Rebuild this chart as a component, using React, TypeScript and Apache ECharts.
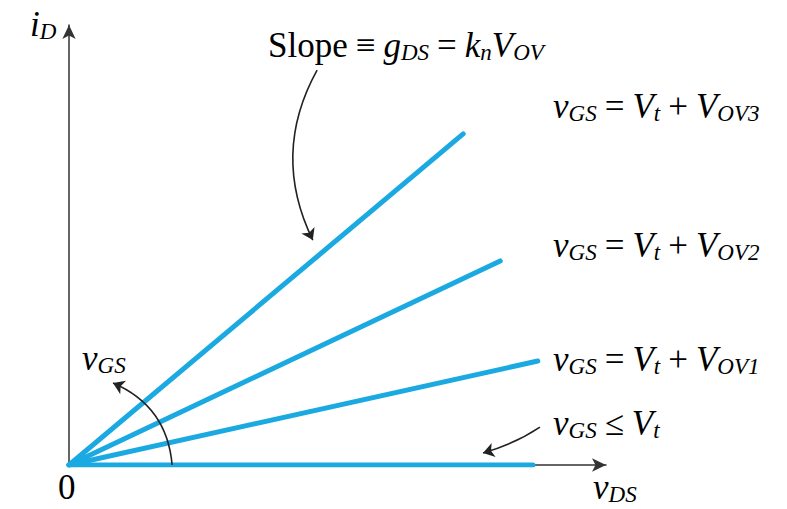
import React, { useEffect, useRef } from "react";
import * as echarts from "echarts";

// Schematic i_D - v_DS lines (arbitrary units), one per overdrive value
const seriesNames = ["vGS ≤ Vt", "VOV1", "VOV2", "VOV3"];
const endVDS = [8.64, 8.73, 8.03, 7.34];
const endID = [0, 1.89, 3.71, 6.02];

// Annotation arrows (data units): [x1, y1, x2, y2, curveness]
const slopeArrow = [4.62, 7.18, 4.54, 4.09, -0.26];
const vgsArc = [1.92, 0, 0.82, 1.49, -0.3];
const cutoffArrow = [8.77, 0.69, 7.71, 0.22, 0.08];

const xMax = 10;
const yMax = 8;

const FONT = "Liberation Serif, Times New Roman, serif";
const INK = "#222";

const rich = {
  m: { fontFamily: FONT, fontSize: 35, fontStyle: "italic", lineHeight: 38, color: INK },
  r: { fontFamily: FONT, fontSize: 35, fontStyle: "normal", lineHeight: 38, color: INK },
  o: { fontFamily: FONT, fontSize: 35, fontStyle: "normal", lineHeight: 38, color: INK, padding: [0, 8, 0, 8] },
  s: { fontFamily: FONT, fontSize: 23, fontStyle: "italic", lineHeight: 13, color: INK, verticalAlign: "bottom" },
};

const labelText = (x: number, y: number, text: string) => ({
  type: "text",
  x,
  y,
  silent: true,
  style: { text, rich, verticalAlign: "middle", align: "left" },
});

export default function App() {
  const ref = useRef<HTMLDivElement>(null);
  useEffect(() => {
    if (!ref.current) return;
    const chart = echarts.init(ref.current, null, { renderer: "svg" });
    const axisLine = {
      show: true,
      symbol: ["none", "arrow"],
      symbolSize: [10, 14],
      lineStyle: { color: "#333", width: 1.5 },
    };
    const mkArrow = (a: number[]) => ({
      coords: [
        [a[0], a[1]],
        [a[2], a[3]],
      ],
      lineStyle: { curveness: a[4] },
    });
    chart.setOption({
      animation: false,
      backgroundColor: "#fff",
      grid: { left: 69, right: 181, top: 25, bottom: 44 },
      xAxis: {
        type: "value",
        min: 0,
        max: xMax,
        axisLine,
        axisTick: { show: false },
        axisLabel: { show: false },
        splitLine: { show: false },
      },
      yAxis: {
        type: "value",
        min: 0,
        max: yMax,
        axisLine,
        axisTick: { show: false },
        axisLabel: { show: false },
        splitLine: { show: false },
      },
      series: [
        ...seriesNames.map((name, i) => ({
          type: "line",
          name,
          showSymbol: false,
          data: [
            [0, 0],
            [endVDS[i], endID[i]],
          ],
          lineStyle: { color: "#1ba9e1", width: 5, cap: "round" },
          z: 3,
        })),
        {
          type: "lines",
          coordinateSystem: "cartesian2d",
          symbol: ["none", "arrow"],
          symbolSize: 11,
          lineStyle: { color: INK, width: 1.6, opacity: 1 },
          data: [mkArrow(slopeArrow), mkArrow(vgsArc), mkArrow(cutoffArrow)],
          z: 4,
        },
      ],
      graphic: [
        labelText(30, 24, "{m|i}{s|D}"),
        labelText(268, 45, "{r|Slope}{o|≡}{m|g}{s|DS}{o|=}{m|k}{s|n}{m|V}{s|OV}"),
        labelText(553, 106, "{m|v}{s|GS}{o|=}{m|V}{s|t}{o|+}{m|V}{s|OV3}"),
        labelText(553, 245, "{m|v}{s|GS}{o|=}{m|V}{s|t}{o|+}{m|V}{s|OV2}"),
        labelText(553, 359, "{m|v}{s|GS}{o|=}{m|V}{s|t}{o|+}{m|V}{s|OV1}"),
        labelText(553, 423, "{m|v}{s|GS}{o|≤}{m|V}{s|t}"),
        labelText(82, 358, "{m|v}{s|GS}"),
        labelText(593, 487, "{m|v}{s|DS}"),
        labelText(58, 487, "{r|0}"),
      ],
    });
    return () => chart.dispose();
  }, []);
  return (
    <div
      ref={ref}
      style={{ position: "absolute", left: 0, top: 0, width: 787, height: 509, background: "#fff" }}
    />
  );
}
